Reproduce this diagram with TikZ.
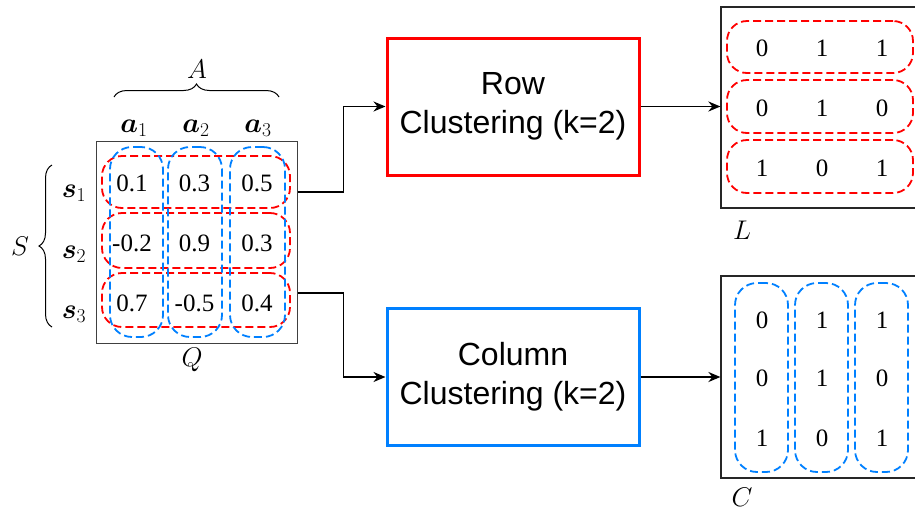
\RequirePackage{fix-cm}
\documentclass[tikz,border=0pt]{standalone}
\usepackage{amsmath}
\usepackage{fontspec}
\setmainfont{Liberation Serif}
\newfontfamily\boxfont{Liberation Sans}
\usetikzlibrary{arrows.meta,decorations.pathreplacing}

\definecolor{rowred}{RGB}{255,0,0}
\definecolor{colblue}{RGB}{0,128,255}

\tikzset{
  num/.style={inner sep=0pt,font=\fontsize{25}{30}\selectfont},
  lbl/.style={inner sep=0pt,font=\fontsize{27}{31}\selectfont},
  idx/.style={inner sep=0pt,font=\fontsize{28}{32}\selectfont},
  mat/.style={draw=black!75,line width=1pt,inner sep=0pt},
  outmat/.style={draw=black!85,line width=1.2pt,inner sep=0pt},
  redloop/.style={draw=rowred,line width=1.8pt,dash pattern=on 8pt off 4pt,
    rounded corners=20pt,inner sep=0pt},
  blueloop/.style={draw=colblue,line width=1.8pt,dash pattern=on 8pt off 4pt,
    rounded corners=22pt,inner sep=0pt},
  procbox/.style={line width=3pt,minimum width=252pt,minimum height=137pt,
    align=center,inner sep=0pt,font=\fontsize{32}{39}\selectfont\boxfont},
  arr/.style={line width=1.8pt,-{Stealth[length=12pt,width=10pt]}},
  brc/.style={line width=1pt,decorate,decoration={brace,amplitude=13pt}}
}

\begin{document}
\begin{tikzpicture}[x=1pt,y=-1pt]
\clip (0,0) rectangle (915,512);

% input matrix Q
\node[mat,minimum width=201pt,minimum height=202pt] (Q) at (196.5,242) {};
\foreach \v [count=\i] in {0.1,0.3,0.5}
  \node[num] (q1\i) at ({132+62.5*(\i-1)},183) {\v};
\foreach \v [count=\i] in {-0.2,0.9,0.3}
  \node[num] (q2\i) at ({132+62.5*(\i-1)},243) {\v};
\foreach \v [count=\i] in {0.7,-0.5,0.4}
  \node[num] (q3\i) at ({132+62.5*(\i-1)},303) {\v};

% row groups (red) and column groups (blue) over Q
\node[redloop,minimum width=188pt,minimum height=52pt] (qr1) at (196,182) {};
\node[redloop,minimum width=188pt,minimum height=55pt] (qr2) at (196,240.5) {};
\node[redloop,minimum width=188pt,minimum height=54pt] (qr3) at (196,300) {};
\node[blueloop,minimum width=53pt,minimum height=190pt] (qc1) at (136.5,242) {};
\node[blueloop,minimum width=54pt,minimum height=190pt] (qc2) at (195,242) {};
\node[blueloop,minimum width=55pt,minimum height=190pt] (qc3) at (257.5,242) {};

% axis labels
\node[idx,anchor=base] (a1) at (134,132) {$\boldsymbol{a}_1$};
\node[idx,anchor=base] (a2) at (196,132) {$\boldsymbol{a}_2$};
\node[idx,anchor=base] (a3) at (258,132) {$\boldsymbol{a}_3$};
\node[idx,anchor=base] (s1) at (74,197) {$\boldsymbol{s}_1$};
\node[idx,anchor=base] (s2) at (74,258) {$\boldsymbol{s}_2$};
\node[idx,anchor=base] (s3) at (74,318) {$\boldsymbol{s}_3$};
\node[lbl] (Alab) at (197,69) {$A$};
\node[lbl] (Slab) at (20,246) {$S$};
\node[lbl] (Qlab) at (192,360) {$Q$};

\coordinate (ab0) at (114,97);
\coordinate (ab1) at (279,97);
\draw[brc] (ab0) -- (ab1);
\coordinate (sb0) at (52,327);
\coordinate (sb1) at (52,165);
\draw[brc] (sb0) -- (sb1);

% clustering blocks
\node[procbox,draw=rowred] (row) at (513,106.5) {Row\\Clustering (k=2)};
\node[procbox,draw=colblue] (col) at (513,377) {Column\\Clustering (k=2)};

% output matrices L and C
\node[outmat,minimum width=210pt,minimum height=201pt] (L) at (826,107.5) {};
\node[outmat,minimum width=210pt,minimum height=202pt] (C) at (826,377) {};

\node[redloop,minimum width=186pt,minimum height=52pt] (lr1) at (820,47) {};
\node[redloop,minimum width=186pt,minimum height=53pt] (lr2) at (820,106.5) {};
\node[redloop,minimum width=186pt,minimum height=53pt] (lr3) at (820,166.5) {};
\foreach \v [count=\i] in {0,1,1}
  \node[num] (l1\i) at ({762+60*(\i-1)},48) {\v};
\foreach \v [count=\i] in {0,1,0}
  \node[num] (l2\i) at ({762+60*(\i-1)},108) {\v};
\foreach \v [count=\i] in {1,0,1}
  \node[num] (l3\i) at ({762+60*(\i-1)},168) {\v};

\node[blueloop,minimum width=53pt,minimum height=189pt] (cc1) at (761.5,377.5) {};
\node[blueloop,minimum width=53pt,minimum height=189pt] (cc2) at (821.5,377.5) {};
\node[blueloop,minimum width=53pt,minimum height=189pt] (cc3) at (881.5,377.5) {};
\foreach \v [count=\i] in {0,1,1}
  \node[num] (c1\i) at ({762+60*(\i-1)},320) {\v};
\foreach \v [count=\i] in {0,1,0}
  \node[num] (c2\i) at ({762+60*(\i-1)},378) {\v};
\foreach \v [count=\i] in {1,0,1}
  \node[num] (c3\i) at ({762+60*(\i-1)},438) {\v};

\node[lbl] (Llab) at (742,230) {$L$};
\node[lbl] (Clab) at (742,497) {$C$};

% connectors
\draw[arr] ([yshift=50pt]Q.east) -- ++(46,0) |- (row.west);
\draw[arr] ([yshift=-51pt]Q.east) -- ++(46,0) |- (col.west);
\draw[arr] (row.east) -- (row.east -| L.west);
\draw[arr] (col.east) -- (col.east -| C.west);
\end{tikzpicture}
\end{document}
